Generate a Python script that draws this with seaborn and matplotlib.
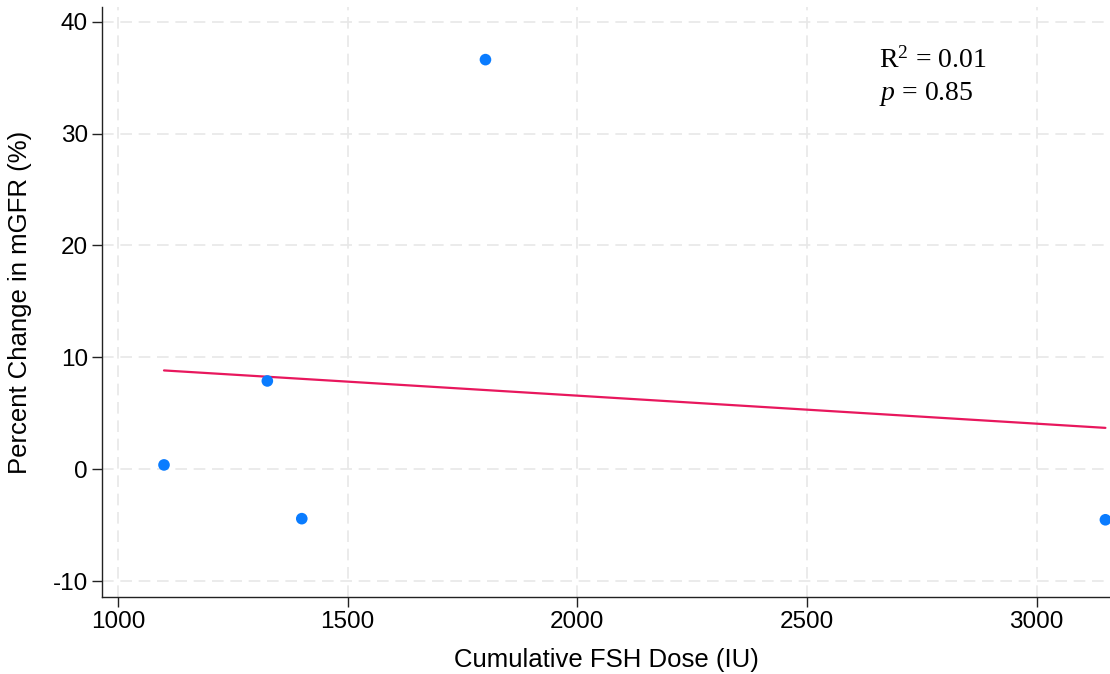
import numpy as np
import pandas as pd
import matplotlib
matplotlib.use("Agg")
import matplotlib.pyplot as plt
import seaborn as sns

# 每位受試者的累積 FSH 劑量與 mGFR 變化百分比
fsh_dose = [1100, 1325, 1400, 1800, 3150]
mgfr_change = [0.4, 7.9, -4.4, 36.6, -4.5]
x_ticks = [1000, 1500, 2000, 2500, 3000]
y_ticks = [-10, 0, 10, 20, 30, 40]

df = pd.DataFrame({"dose": fsh_dose, "change": mgfr_change})

sns.set_style("white")
plt.rcParams["font.family"] = ["Liberation Sans", "DejaVu Sans"]
plt.rcParams["axes.unicode_minus"] = False
plt.rcParams["text.color"] = "black"
plt.rcParams["axes.labelcolor"] = "black"
plt.rcParams["xtick.color"] = "black"
plt.rcParams["ytick.color"] = "black"
plt.rcParams["mathtext.fontset"] = "custom"
plt.rcParams["mathtext.rm"] = "Liberation Serif"
plt.rcParams["mathtext.it"] = "Liberation Serif:italic"

fig = plt.figure(figsize=(11.1, 6.74), dpi=100)
ax = fig.add_axes([0.0919, 0.1142, 0.9081, 0.8754])

# 迴歸線只畫在資料範圍內
sns.regplot(data=df, x="dose", y="change", ci=None, ax=ax,
            scatter_kws={"s": 70, "color": "#0a7cff", "alpha": 1,
                         "edgecolor": "none", "zorder": 3},
            line_kws={"color": "#e8175d", "linewidth": 1.6, "zorder": 2})

ax.set_xlim(965, 3160)
ax.set_ylim(-11.4, 41.3)
ax.set_xticks(x_ticks)
ax.set_yticks(y_ticks)
ax.grid(True, color="#e8e8e8", linestyle=(0, (7, 4)), linewidth=1.2)
ax.set_axisbelow(True)

for side in ["top", "right"]:
    ax.spines[side].set_visible(False)
for side in ["left", "bottom"]:
    ax.spines[side].set_color("#222222")
    ax.spines[side].set_linewidth(1.0)

ax.tick_params(axis="both", direction="out", length=7, width=1.0,
               color="#222222", labelcolor="black", labelsize=17.5, pad=3,
               left=True, bottom=True)
ax.set_xlabel("Cumulative FSH Dose (IU)", fontsize=18.5, va="center")
ax.set_ylabel("Percent Change in mGFR (%)", fontsize=18.5, va="center")
ax.xaxis.set_label_coords(0.5, -0.107)
ax.yaxis.set_label_coords(-0.081, 0.5)

# 統計結果標註
fig.text(0.792, 0.911, r"R$^2$ = 0.01", fontsize=20, va="center",
         family="Liberation Serif")
fig.text(0.792, 0.861, r"$\mathit{p}$ = 0.85", fontsize=20, va="center",
         family="Liberation Serif")

fig.savefig("out.png", dpi=100)
